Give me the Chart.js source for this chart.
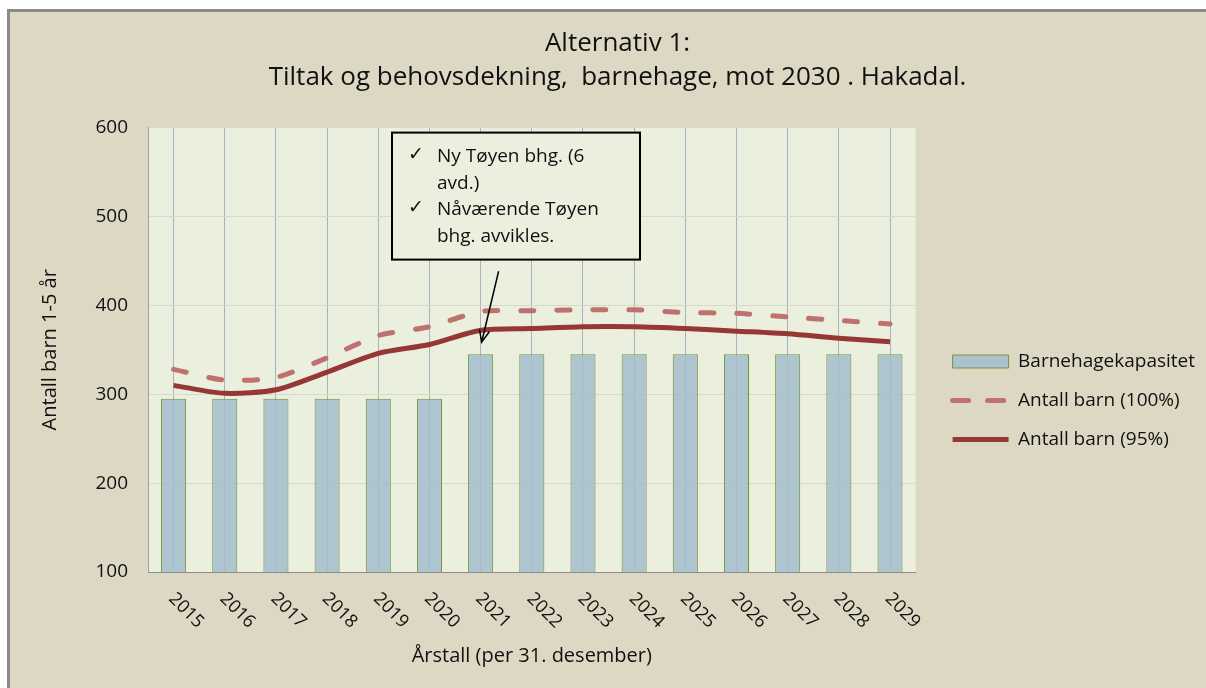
<!DOCTYPE html>
<html>
<head>
<meta charset="utf-8">
<script src="https://cdn.jsdelivr.net/npm/chart.js@4/dist/chart.umd.min.js"></script>
<style>
  html, body { margin: 0; padding: 0; background: #ffffff; }
  #frame {
    position: absolute; left: 7px; top: 9px; width: 1199px; height: 679px;
    box-sizing: border-box; border-left: 3px solid #8a8a8a; border-top: 3px solid #8a8a8a;
    background: #ddd8c3;
  }
  #wrap { position: absolute; left: 0; top: 0; width: 1206px; height: 688px; }
</style>
</head>
<body>
<div id="frame"></div>
<div id="wrap"><canvas id="myChart"></canvas></div>
<script>
// data
const years = ['2015', '2016', '2017', '2018', '2019', '2020', '2021', '2022',
               '2023', '2024', '2025', '2026', '2027', '2028', '2029'];
const capacity = [295, 295, 295, 295, 295, 295, 345, 345, 345, 345, 345, 345, 345, 345, 345];
const children100 = [328, 316, 319, 341, 366, 376, 393, 394, 395, 395, 392, 391, 387, 383, 379];
const children95 = [310, 301, 305, 325, 346, 356, 372, 374, 376, 376, 374, 371, 368, 363, 359];
const yMin = 100, yMax = 600, yStep = 100;

const titleLines = ['Alternativ 1:', 'Tiltak og behovsdekning,  barnehage, mot 2030 . Hakadal.'];
const noteLines = [
    { check: true, text: 'Ny Tøyen bhg. (6' },
    { check: false, text: 'avd.)' },
    { check: true, text: 'Nåværende Tøyen' },
    { check: false, text: 'bhg. avvikles.' }
];

const FONT = '"Open Sans", Lato, sans-serif';
const plotBg = '#ebefde';

// plot area background
const plotBackground = {
    id: 'plotBackground',
    beforeDraw(chart) {
        const { ctx, chartArea: a } = chart;
        ctx.save();
        ctx.fillStyle = plotBg;
        ctx.fillRect(a.left, a.top, a.right - a.left, a.bottom - a.top);
        ctx.restore();
    }
};

// x tick labels, rotated clockwise like the original
const slantedLabels = {
    id: 'slantedLabels',
    afterDraw(chart) {
        const { ctx, chartArea: a } = chart;
        const xs = chart.scales.x;
        ctx.save();
        ctx.font = '18px ' + FONT;
        ctx.fillStyle = '#111';
        ctx.textAlign = 'left';
        ctx.textBaseline = 'middle';
        years.forEach((y, i) => {
            ctx.save();
            ctx.translate(xs.getPixelForTick(i) - 2, a.bottom + 24);
            ctx.rotate(Math.PI / 4);
            ctx.fillText(y, 0, 0);
            ctx.restore();
        });
        ctx.restore();
    }
};

// text box with arrow pointing at 2021
const noteBox = {
    id: 'noteBox',
    afterDraw(chart) {
        const { ctx, chartArea: a } = chart;
        const bx = a.left + 244, by = a.top + 5, bw = 248, bh = 127;
        ctx.save();
        ctx.fillStyle = plotBg;
        ctx.fillRect(bx, by, bw, bh);
        ctx.strokeStyle = '#000';
        ctx.lineWidth = 2;
        ctx.strokeRect(bx, by, bw, bh);
        ctx.fillStyle = '#111';
        ctx.textBaseline = 'middle';
        noteLines.forEach((l, i) => {
            const ly = by + 24 + i * 26.5;
            if (l.check) {
                ctx.font = 'bold 19px "DejaVu Sans", sans-serif';
                ctx.textAlign = 'center';
                ctx.fillText('✓', bx + 24, ly - 2);
            }
            ctx.font = '19px ' + FONT;
            ctx.textAlign = 'left';
            ctx.fillText(l.text, bx + 45, ly);
        });

        const i2021 = years.indexOf('2021');
        const tipX = chart.scales.x.getPixelForTick(i2021) + 1;
        const tipY = chart.scales.y.getPixelForValue(children95[i2021]) + 12;
        const sx = tipX + 17, sy = tipY - 71;
        const ang = Math.atan2(tipY - sy, tipX - sx);
        ctx.strokeStyle = '#000';
        ctx.lineWidth = 1.5;
        ctx.beginPath();
        ctx.moveTo(sx, sy);
        ctx.lineTo(tipX, tipY);
        ctx.moveTo(tipX - 13 * Math.cos(ang - 0.4), tipY - 13 * Math.sin(ang - 0.4));
        ctx.lineTo(tipX, tipY);
        ctx.lineTo(tipX - 13 * Math.cos(ang + 0.4), tipY - 13 * Math.sin(ang + 0.4));
        ctx.stroke();
        ctx.restore();
    }
};

// legend items: keep dataset order and show the dash of the dashed series
function legendLabels(chart) {
    const items = Chart.defaults.plugins.legend.labels.generateLabels(chart);
    return items.map(item => {
        const ds = chart.data.datasets[item.datasetIndex];
        if (ds.type === 'line') {
            item.lineDash = ds.borderDash ? [16, 19] : [];
            item.lineWidth = ds.borderWidth;
            item.strokeStyle = ds.borderColor;
            item.lineCap = ds.borderCapStyle || 'butt';
        }
        return item;
    }).sort((a, b) => a.datasetIndex - b.datasetIndex);
}

const ctx = document.getElementById('myChart').getContext('2d');
const myChart = new Chart(ctx, {
    type: 'bar',
    data: {
        labels: years,
        datasets: [
            {
                type: 'bar',
                label: 'Barnehagekapasitet',
                data: capacity,
                backgroundColor: 'rgba(160, 188, 205, 0.82)',
                borderColor: '#77933c',
                borderWidth: 1,
                barPercentage: 0.49,
                categoryPercentage: 1,
                pointStyle: 'rect',
                order: 2
            },
            {
                type: 'line',
                label: 'Antall barn (100%)',
                data: children100,
                borderColor: '#bf716d',
                backgroundColor: '#bf716d',
                borderWidth: 5,
                borderDash: [13, 23],
                borderCapStyle: 'round',
                pointRadius: 0,
                tension: 0.25,
                pointStyle: 'line',
                order: 1
            },
            {
                type: 'line',
                label: 'Antall barn (95%)',
                data: children95,
                borderColor: '#953735',
                backgroundColor: '#953735',
                borderWidth: 5,
                pointRadius: 0,
                tension: 0.25,
                pointStyle: 'line',
                order: 0
            }
        ]
    },
    options: {
        responsive: true,
        maintainAspectRatio: false,
        animation: false,
        layout: { padding: { left: 30, right: 1, top: 15, bottom: 18 } },
        scales: {
            x: {
                grid: { color: '#aab1c1', offset: false, drawTicks: false },
                border: { color: '#8c8c8c' },
                ticks: { display: false },
                title: {
                    display: true,
                    text: 'Årstall (per 31. desember)',
                    color: '#111',
                    font: { family: FONT, size: 20 },
                    padding: { top: 0, bottom: 2 }
                },
                afterFit(s) { s.height = 98; }
            },
            y: {
                min: yMin,
                max: yMax,
                ticks: {
                    stepSize: yStep,
                    padding: 20,
                    color: '#111',
                    font: { family: FONT, size: 19 }
                },
                grid: { color: '#d6dac8', drawTicks: false },
                border: { color: '#a0a0a0' },
                title: {
                    display: true,
                    text: 'Antall barn 1-5 år',
                    color: '#111',
                    font: { family: FONT, size: 20 },
                    padding: { top: 8, bottom: 0 }
                },
                afterFit(s) { s.width = 118; }
            },
            gap: {
                position: 'right',
                display: true,
                grid: { display: false },
                ticks: { display: false },
                border: { display: false },
                afterFit(s) { s.width = 17; }
            }
        },
        plugins: {
            title: {
                display: true,
                text: titleLines,
                color: '#111',
                font: { family: FONT, size: 26, weight: 'normal', lineHeight: 1.3 },
                padding: { top: 12, bottom: 33 }
            },
            legend: {
                position: 'right',
                maxWidth: 320,
                title: { display: true, text: ' ', font: { size: 10 }, padding: { top: 104, bottom: 0 } },
                labels: {
                    usePointStyle: true,
                    pointStyleWidth: 56,
                    boxHeight: 13,
                    padding: 20,
                    color: '#111',
                    font: { family: FONT, size: 19 },
                    generateLabels: legendLabels
                }
            },
            tooltip: { enabled: false }
        }
    },
    plugins: [plotBackground, slantedLabels, noteBox]
});
</script>
</body>
</html>
